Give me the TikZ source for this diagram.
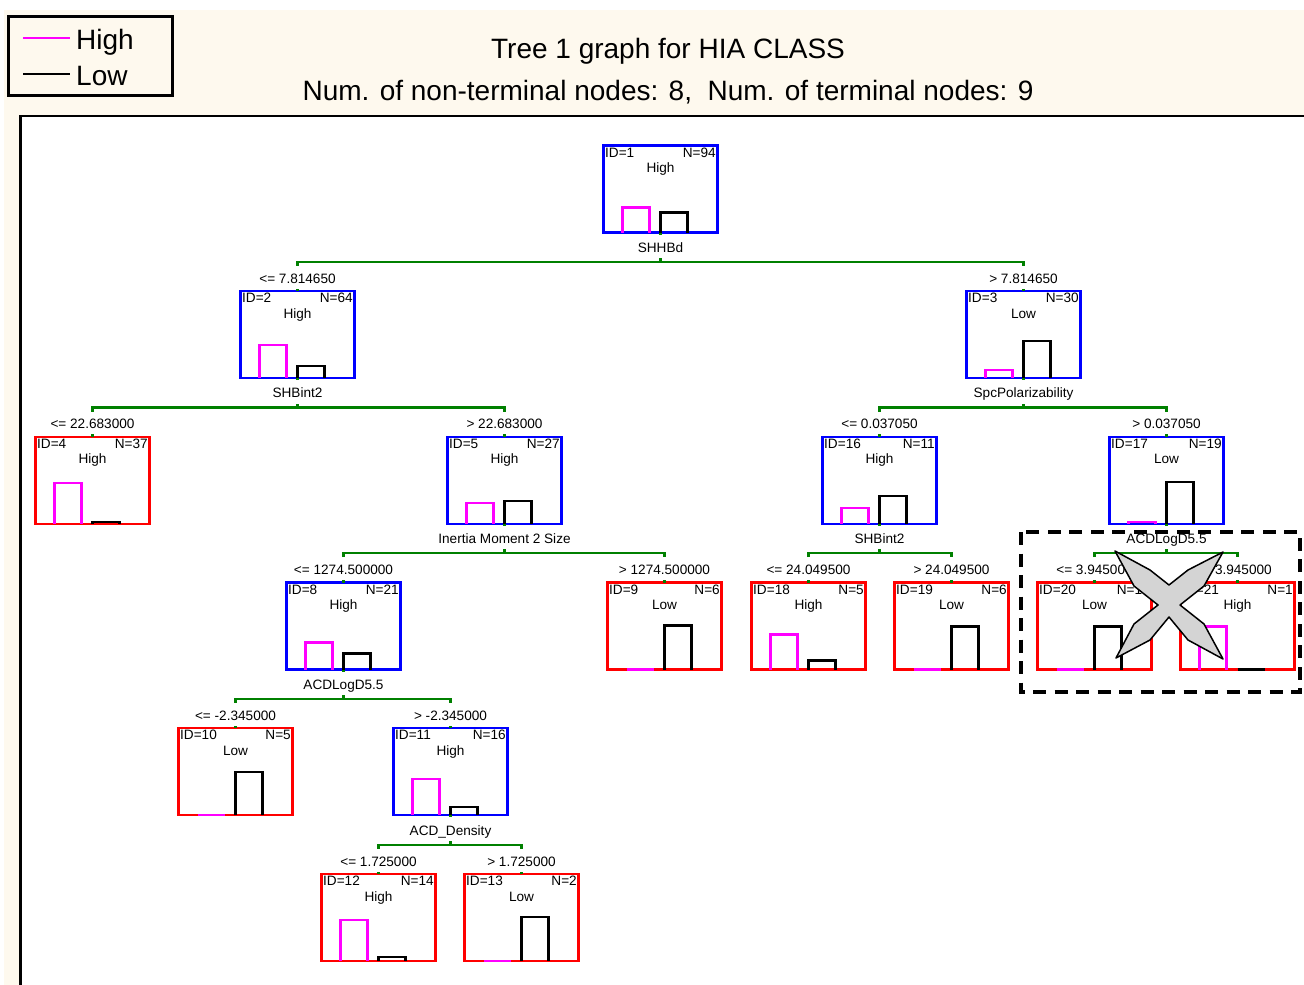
\documentclass[tikz,border=0pt]{standalone}
\usepackage{fontspec}
\setmainfont{Liberation Sans}
\definecolor{cream}{RGB}{254,249,238}
\definecolor{dgreen}{RGB}{0,128,0}
\definecolor{xgrey}{RGB}{212,212,212}
\definecolor{mag}{RGB}{255,0,255}
\definecolor{bblue}{RGB}{0,0,255}
\definecolor{rred}{RGB}{255,0,0}
\newcommand\treenode[9]{%
  \node[tbox, draw=#7] (#1) at (#2,#3+43.5) {};
  \node[txt, anchor=base west] at ([xshift=1.5pt,yshift=-11.5pt]#1.north west) {ID=#4};
  \node[txt, anchor=base east] at ([xshift=-1.5pt,yshift=-11.5pt]#1.north east) {N=#5};
  \node[txt, anchor=base] at ([yshift=-27pt]#1.north) {#6};
  \draw[mbar] ([xshift=-38pt]#1.south) -- ++(0pt,#8pt) -- ++(27pt,0pt) -- ++(0pt,-#8pt);
  \draw[kbar] (#1.south) -- ++(0pt,#9pt) -- ++(27pt,0pt) -- ++(0pt,-#9pt);
}
\newcommand\treesplit[6]{%
  \node[txt, anchor=base] at ([yshift=-19.7pt]#1.south) {#4};
  \coordinate (#1h) at ([yshift=-29.3pt]#1.south);
  \draw[conn] (#2.north |- #1h) ++(0pt,-4pt) -- ++(0pt,4pt) -- (#3.north |- #1h) -- ++(0pt,-4pt);
  \draw[conn] (#1h) -- ++(0pt,4pt);
  \draw[conn] (#1.south) -- ++(0pt,-2pt);
  \draw[conn] (#2.north) -- ++(0pt,2.5pt);
  \draw[conn] (#3.north) -- ++(0pt,2.5pt);
  \node[txt, anchor=base] at ([yshift=8pt]#2.north) {#5};
  \node[txt, anchor=base] at ([yshift=8pt]#3.north) {#6};
}
\begin{document}
\begin{tikzpicture}[x=1pt,y=-1pt,
  tbox/.style={line width=2.3pt, minimum width=114pt, minimum height=87pt, inner sep=0pt, outer sep=0pt},
  txt/.style={font=\fontsize{13.6}{13.6}\selectfont, inner sep=0pt},
  conn/.style={draw=dgreen, line width=2.2pt},
  mbar/.style={draw=mag, line width=2.3pt},
  kbar/.style={draw=black, line width=2.3pt},
  big/.style={inner sep=0pt, anchor=base}]
\useasboundingbox (0,0) rectangle (1304,985);
\fill[white] (0,0) rectangle (1304,985);
\fill[cream] (4,10) rectangle (1304,985);
\fill[white] (20.3,116) rectangle (1304,985);
\draw[line width=2.4pt] (20.3,986) -- (20.3,116) -- (1305,116);
% legend
\draw[line width=3pt] (8.5,16.5) rectangle (172.5,95.5);
\draw[mag, line width=2pt] (23,38.3) -- (70,38.3);
\draw[black, line width=2pt] (23,74) -- (70,74);
\node[big, anchor=base west, font=\fontsize{28}{28}\selectfont] (lh) at (76,49.3) {High};
\node[big, anchor=base west, font=\fontsize{28}{28}\selectfont] (ll) at (76,85) {Low};
% titles
\node[big, font=\fontsize{28}{28}\selectfont] (t1) at (668,58) {Tree 1 graph for HIA CLASS};
\node[big, font=\fontsize{28}{28}\selectfont] (t2) at (668,100) {Num. of non-terminal nodes: 8,\ \ Num. of terminal nodes: 9};
% nodes
\treenode{n1}{660.5}{145.5}{1}{94}{High}{bblue}{25}{20}
\treenode{n2}{297.5}{291.2}{2}{64}{High}{bblue}{33}{12}
\treenode{n3}{1023.5}{291.2}{3}{30}{Low}{bblue}{8}{37}
\treenode{n4}{92.5}{436.9}{4}{37}{High}{rred}{41}{2}
\treenode{n5}{504.5}{436.9}{5}{27}{High}{bblue}{21}{23}
\treenode{n16}{879.5}{436.9}{16}{11}{High}{bblue}{16}{28}
\treenode{n17}{1166.5}{436.9}{17}{19}{Low}{bblue}{2}{42}
\treenode{n8}{343.5}{582.6}{8}{21}{High}{bblue}{27}{16}
\treenode{n9}{664.5}{582.6}{9}{6}{Low}{rred}{0}{44}
\treenode{n18}{808.5}{582.6}{18}{5}{High}{rred}{35}{9}
\treenode{n19}{951.5}{582.6}{19}{6}{Low}{rred}{0}{43}
\treenode{n20}{1094.5}{582.6}{20}{18}{Low}{rred}{0}{43}
\treenode{n21}{1237.5}{582.6}{21}{1}{High}{rred}{43}{0}
\treenode{n10}{235.5}{728.3}{10}{5}{Low}{rred}{0}{43}
\treenode{n11}{450.5}{728.3}{11}{16}{High}{bblue}{36}{8}
\treenode{n12}{378.5}{874}{12}{14}{High}{rred}{41}{4}
\treenode{n13}{521.5}{874}{13}{2}{Low}{rred}{0}{44}
% splits
\treesplit{n1}{n2}{n3}{SHHBd}{<= 7.814650}{> 7.814650}
\treesplit{n2}{n4}{n5}{SHBint2}{<= 22.683000}{> 22.683000}
\treesplit{n3}{n16}{n17}{SpcPolarizability}{<= 0.037050}{> 0.037050}
\treesplit{n5}{n8}{n9}{Inertia Moment 2 Size}{<= 1274.500000}{> 1274.500000}
\treesplit{n16}{n18}{n19}{SHBint2}{<= 24.049500}{> 24.049500}
\treesplit{n17}{n20}{n21}{ACDLogD5.5}{<= 3.945000}{> 3.945000}
\treesplit{n8}{n10}{n11}{ACDLogD5.5}{<= -2.345000}{> -2.345000}
\treesplit{n11}{n12}{n13}{ACD\_Density}{<= 1.725000}{> 1.725000}
% dashed selection and cross
\draw[line width=4pt, dash pattern=on 13pt off 8.5pt] (1021,532) rectangle (1300,692);
\filldraw[fill=xgrey, draw=black, line width=1.5pt, line join=round]
  (1115,551) -- (1150,570) -- (1169,585) -- (1188,570) -- (1223,552)
  -- (1204,586) -- (1180,605) -- (1204,624) -- (1223,659)
  -- (1188,640) -- (1169,617) -- (1150,640) -- (1116,658)
  -- (1134,624) -- (1158,605) -- (1134,586) -- cycle;
\end{tikzpicture}
\end{document}
